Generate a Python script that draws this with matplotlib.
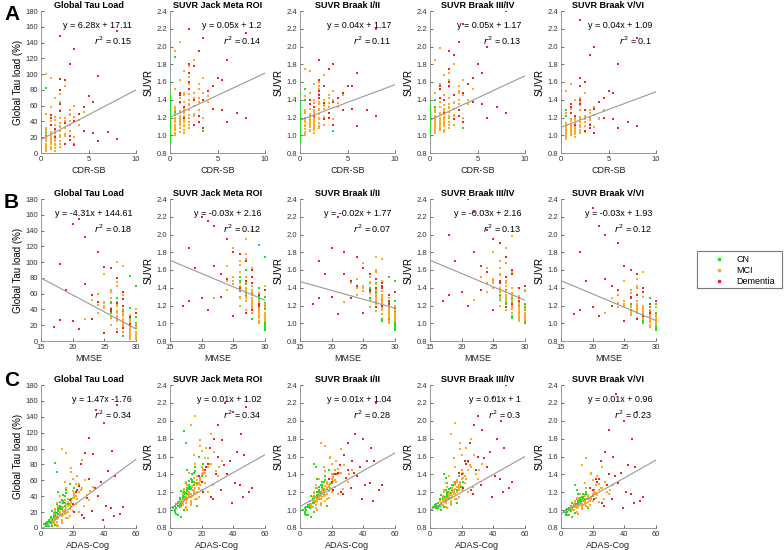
import matplotlib
matplotlib.use("Agg")
import matplotlib.pyplot as plt
from matplotlib.lines import Line2D
from matplotlib.patches import Rectangle

plt.rcParams['font.family'] = ['Liberation Sans', 'DejaVu Sans']

# ---------------- data (per subject) ----------------
# CN
cn_cdr = [0,0,0,0,0,0,0,0.5,0,0,0,0,0,0,0,0,0,0,0,0,0,0,0.5,0,0,0,0,0,0,0,0,0,3.5,0,0,0,0,0,0,0.5,
          0,0,0,0,0,0,0,0,0.5,0,0,0,0,0,0,0,0,0,0,0,0.5,0,0,0,0,0,0,0,0,0]
cn_mmse = [30,29,30,28,29,30,27,29,30,28,29,30,26,29,30,28,29,30,27,29,30,28,29,30,29,30,28,27,30,29,30,29,28,30,28,29,30,26,29,30,
           30,29,28,30,29,27,30,29,28,30,29,30,28,29,27,30,29,28,30,29,26,30,29,28,30,29,30,27,29,28]
cn_adas = [6,9,4,11,7,10,13,8,5,12,14,9,16,6,11,3,15,8,18,10,7,12,9,5,13,8,20,11,6,14,9,12,17,10,7,15,4,19,8,11,
           5,8,12,3,9,14,7,10,13,6,11,4,15,9,17,2,8,12,6,10,21,5,9,14,7,11,3,16,8,12]
cn_tau = [12,18,5,25,8,30,35,15,3,20,42,10,48,14,22,6,28,16,55,12,2,33,82,9,24,19,38,45,11,27,4,17,12,70,21,31,7,36,13,23,
          10,16,28,4,20,32,8,14,26,6,18,2,40,15,30,5,12,24,9,19,50,7,13,34,11,21,3,44,14,26]
cn_jack = [1.12,1.18,1.02,1.25,1.08,1.30,1.35,1.15,0.95,1.20,1.40,1.10,1.48,1.14,1.22,1.05,1.28,1.16,1.60,1.12,0.92,1.33,1.88,1.09,1.24,1.19,1.38,1.45,1.11,1.27,1.00,1.17,1.05,1.75,1.21,1.31,1.07,1.36,1.13,1.23,
           1.08,1.16,1.28,1.00,1.20,1.32,1.06,1.14,1.26,1.04,1.18,0.96,1.42,1.15,1.30,1.02,1.12,1.24,1.06,1.19,1.52,1.05,1.13,1.34,1.10,1.21,0.98,1.44,1.14,1.26]
cn_b12 = [1.10,1.15,1.00,1.20,1.05,1.25,1.28,1.12,0.95,1.18,1.32,1.08,1.38,1.10,1.16,1.02,1.22,1.14,1.45,1.10,0.92,1.26,1.52,1.06,1.19,1.14,1.30,1.35,1.07,1.21,0.98,1.13,1.05,1.48,1.16,1.24,1.04,1.29,1.11,1.17,
          1.06,1.12,1.22,0.98,1.16,1.26,1.04,1.10,1.20,1.02,1.14,0.94,1.32,1.12,1.24,1.00,1.08,1.18,1.05,1.15,1.40,1.03,1.09,1.28,1.07,1.16,0.96,1.34,1.10,1.20]
cn_b34 = [1.12,1.15,1.05,1.20,1.08,1.22,1.25,1.14,1.02,1.18,1.28,1.10,1.32,1.13,1.18,1.06,1.20,1.15,1.38,1.10,1.00,1.24,1.40,1.08,1.19,1.16,1.26,1.30,1.10,1.21,1.04,1.14,1.08,1.36,1.17,1.23,1.07,1.26,1.12,1.18,
          1.08,1.12,1.20,1.04,1.15,1.24,1.06,1.11,1.19,1.05,1.14,1.02,1.28,1.12,1.22,1.04,1.10,1.18,1.06,1.15,1.32,1.05,1.10,1.25,1.08,1.16,1.03,1.30,1.11,1.19]
cn_b56 = [1.05,1.08,0.98,1.10,1.02,1.12,1.15,1.06,0.95,1.09,1.18,1.04,1.20,1.05,1.08,1.00,1.12,1.07,1.25,1.04,0.92,1.14,1.28,1.02,1.10,1.07,1.16,1.18,1.03,1.11,0.97,1.06,1.02,1.22,1.08,1.13,1.01,1.15,1.05,1.09,
          1.02,1.06,1.12,0.97,1.08,1.14,1.00,1.05,1.11,0.99,1.07,0.94,1.17,1.06,1.13,0.98,1.04,1.10,1.01,1.07,1.22,1.00,1.05,1.15,1.03,1.08,0.95,1.18,1.05,1.11]

# MCI
mci_cdr = [0.5,1.0,1.5,2.0,0.5,1.0,2.5,3.0,1.5,0.5,1.0,2.0,1.5,0.5,3.5,1.0,2.5,1.5,0.5,1.0,2.0,1.5,3.0,0.5,1.0,2.5,4.0,1.5,0.5,2.0,1.0,3.0,1.5,0.5,2.0,1.0,2.5,1.5,0.5,4.5,1.0,2.0,1.5,3.5,0.5,1.0,2.5,1.5,0.5,2.0,1.0,3.0,1.5,0.5,2.0,
           0.5,1.0,1.5,2.0,2.5,0.5,1.0,1.5,2.0,3.0,0.5,1.0,1.5,2.0,0.5,1.0,2.5,1.5,3.0,0.5,1.0,2.0,1.5,0.5,4.0,1.0,2.0,1.5,0.5,3.5,1.0,2.5,1.5,2.0,0.5]
mci_mmse = [29,28,27,26,30,29,25,26,28,30,27,28,29,28,24,30,27,26,29,28,27,30,25,27,29,28,24,28,30,26,29,27,28,29,28,30,25,29,28,23,27,29,27,26,30,28,29,26,29,27,30,28,29,27,22,
            28,29,27,28,26,29,30,28,27,25,30,28,29,26,27,29,28,30,27,29,28,26,29,30,25,28,29,27,28,24,30,27,28,29,26]
mci_adas = [10,14,18,20,8,12,24,22,16,9,15,17,13,11,28,7,19,21,12,16,18,10,25,13,14,20,30,15,6,23,11,19,17,9,16,12,26,14,10,33,18,13,20,24,8,15,17,22,11,19,9,21,13,16,27,
            12,11,17,19,22,9,10,15,21,26,8,13,14,24,16,12,18,11,23,10,15,20,13,7,29,14,17,19,12,31,10,21,16,15,18]
mci_tau = [15,22,30,38,8,18,45,55,25,12,35,20,10,28,60,5,32,42,20,95,15,3,48,100,26,22,35,18,10,65,14,28,36,24,12,40,85,16,32,52,25,8,46,20,18,58,12,30,2,75,22,40,6,50,28,
           20,14,28,34,40,10,8,22,44,50,6,18,26,55,30,16,24,12,36,4,20,62,15,9,42,27,33,70,17,46,11,38,19,23,29]
mci_jack = [1.15,1.22,1.30,1.40,1.08,1.18,1.48,1.58,1.25,1.12,1.36,1.20,1.10,1.28,1.65,1.04,1.33,1.45,1.20,2.05,1.15,1.02,1.52,1.95,1.26,1.22,1.38,1.18,1.10,1.70,1.14,1.28,1.38,1.24,1.12,1.42,1.85,1.16,1.32,1.55,1.25,1.08,1.48,1.20,1.18,1.62,1.12,1.30,1.00,1.78,1.22,1.42,1.06,1.52,1.28,
            1.20,1.14,1.28,1.35,1.42,1.10,1.08,1.22,1.46,1.52,1.06,1.18,1.26,1.58,1.30,1.16,1.24,1.12,1.38,1.03,1.20,1.66,1.15,1.09,1.44,1.27,1.34,1.72,1.17,1.48,1.11,1.40,1.19,1.23,1.29]
mci_b12 = [1.15,1.20,1.28,1.35,1.10,1.18,1.40,1.45,1.22,1.12,1.30,1.18,1.08,1.25,1.50,1.05,1.30,1.36,1.17,1.72,1.14,1.02,1.42,1.75,1.22,1.20,1.32,1.16,1.10,1.55,1.12,1.25,1.32,1.20,1.10,1.35,1.68,1.15,1.28,1.45,1.22,1.08,1.40,1.18,1.15,1.48,1.12,1.26,1.00,1.60,1.19,1.36,1.06,1.44,1.24,
           1.18,1.12,1.25,1.30,1.34,1.10,1.06,1.20,1.38,1.42,1.04,1.16,1.22,1.46,1.27,1.14,1.21,1.10,1.32,1.02,1.18,1.52,1.13,1.07,1.36,1.24,1.29,1.58,1.15,1.40,1.09,1.33,1.17,1.20,1.26]
mci_b34 = [1.14,1.20,1.28,1.35,1.10,1.16,1.45,1.55,1.24,1.12,1.32,1.20,1.10,1.26,1.62,1.06,1.30,1.40,1.18,1.98,1.15,1.04,1.50,1.85,1.24,1.22,1.35,1.18,1.10,1.70,1.13,1.28,1.34,1.22,1.12,1.38,1.80,1.16,1.30,1.52,1.25,1.08,1.45,1.20,1.16,1.58,1.12,1.30,1.02,1.75,1.20,1.40,1.06,1.48,1.26,
           1.19,1.13,1.26,1.32,1.38,1.10,1.08,1.21,1.42,1.48,1.06,1.17,1.24,1.54,1.28,1.15,1.23,1.11,1.35,1.04,1.19,1.62,1.14,1.08,1.40,1.25,1.31,1.68,1.16,1.45,1.10,1.36,1.18,1.22,1.27]
mci_b56 = [1.06,1.10,1.14,1.18,1.03,1.08,1.22,1.28,1.12,1.05,1.16,1.09,1.04,1.12,1.32,1.00,1.15,1.20,1.08,1.58,1.06,0.98,1.25,1.50,1.11,1.10,1.18,1.07,1.04,1.38,1.05,1.13,1.17,1.10,1.05,1.18,1.48,1.06,1.14,1.28,1.11,1.02,1.22,1.09,1.07,1.30,1.04,1.14,0.96,1.42,1.09,1.19,1.01,1.25,1.12,
           1.08,1.05,1.12,1.15,1.19,1.03,1.02,1.09,1.21,1.25,1.00,1.07,1.11,1.29,1.13,1.06,1.10,1.04,1.17,0.98,1.08,1.34,1.06,1.02,1.20,1.11,1.15,1.40,1.07,1.23,1.04,1.18,1.08,1.10,1.12]

# Dementia
dem_cdr = [2.0,3.5,8.0,3.0,6.0,2.0,2.5,5.0,2.0,4.5,1.0,3.5,2.0,5.5,8.0,1.5,4.0,2.5,3.0,1.0,6.0,2.0,3.5,4.5,1.5,5.5,2.5,3.0,7.0,1.0]
dem_mmse = [20,22,21,24,18,25,26,22,27,23,28,26,28,20,17,29,24,27,29,30,21,28,25,23,29,19,26,28,18,27]
dem_adas = [35,40,48,30,45,28,33,42,25,38,22,36,30,44,50,20,34,27,32,18,46,24,39,41,21,47,29,26,52,23]
dem_tau = [148,132,155,113,97,94,93,72,80,58,45,40,62,25,18,30,50,12,22,35,15,53,10,28,20,65,38,16,26,48]
dem_jack = [2.20,2.10,2.15,1.95,1.85,1.80,1.78,1.65,1.70,1.55,1.45,1.40,1.60,1.28,1.20,1.32,1.50,1.12,1.22,1.38,1.15,1.52,1.08,1.30,1.20,1.62,1.40,1.15,1.25,1.48]
dem_b12 = [1.85,1.80,2.20,1.75,1.70,1.62,1.55,1.55,1.50,1.48,1.40,1.38,1.45,1.30,1.22,1.32,1.42,1.18,1.25,1.35,1.10,1.42,1.12,1.28,1.22,1.55,1.36,1.20,1.28,1.40]
dem_b34 = [2.45,2.25,2.40,2.05,2.00,1.95,1.90,1.80,1.75,1.65,1.55,1.48,1.60,1.35,1.25,1.40,1.58,1.18,1.28,1.42,1.20,1.55,1.15,1.38,1.25,1.70,1.45,1.22,1.32,1.52]
dem_b56 = [2.30,2.00,2.10,1.90,1.80,1.65,1.60,1.50,1.55,1.42,1.35,1.30,1.40,1.18,1.10,1.22,1.38,1.05,1.12,1.25,1.08,1.35,1.02,1.20,1.12,1.48,1.28,1.08,1.15,1.32]

# regression annotations (slope, intercept, r2) per row x column
row_fits = [
    [(6.28, 17.11, 0.15), (0.05, 1.2, 0.14), (0.04, 1.17, 0.11), (0.05, 1.17, 0.13), (0.04, 1.09, 0.1)],
    [(-4.31, 144.61, 0.18), (-0.03, 2.16, 0.12), (-0.02, 1.77, 0.07), (-0.03, 2.16, 0.13), (-0.03, 1.93, 0.12)],
    [(1.47, -1.76, 0.34), (0.01, 1.02, 0.34), (0.01, 1.04, 0.28), (0.01, 1.0, 0.3), (0.01, 0.96, 0.23)],
]
col_titles = ["Global Tau Load", "SUVR Jack Meta ROI", "SUVR Braak I/II", "SUVR Braak III/IV", "SUVR Braak V/VI"]
row_xlabels = ["CDR-SB", "MMSE", "ADAS-Cog"]
row_letters = ["A", "B", "C"]
group_names = ["CN", "MCI", "Dementia"]
group_colors = ["#22dd22", "#ffaa22", "#e8262b"]

groups = [
    dict(x=[cn_cdr, cn_mmse, cn_adas], y=[cn_tau, cn_jack, cn_b12, cn_b34, cn_b56]),
    dict(x=[mci_cdr, mci_mmse, mci_adas], y=[mci_tau, mci_jack, mci_b12, mci_b34, mci_b56]),
    dict(x=[dem_cdr, dem_mmse, dem_adas], y=[dem_tau, dem_jack, dem_b12, dem_b34, dem_b56]),
]

row_xlim = [(0, 10), (15, 30), (0, 60)]
row_xticks = [[0, 5, 10], [15, 20, 25, 30], [0, 20, 40, 60]]

W, H = 784, 550
fig = plt.figure(figsize=(W / 100, H / 100), dpi=100)

col_left = [41, 170, 300, 430, 561]
ax_w = 95
row_top = [11, 199, 385]
row_bot = [153, 341, 528]
letter_y = [15, 203, 381]

tick_col = "#333333"
spine_col = "#888888"

for r in range(3):
    for c in range(5):
        l = col_left[c] / W
        b = 1 - row_bot[r] / H
        h = (row_bot[r] - row_top[r]) / H
        ax = fig.add_axes([l, b, ax_w / W, h])
        for g, col in zip(groups, group_colors):
            ax.scatter(g["x"][r], g["y"][c], s=3.5, marker="s", color=col, linewidths=0, zorder=3)
        m, k, r2 = row_fits[r][c]
        x0, x1 = row_xlim[r]
        ax.plot([x0, x1], [m * x0 + k, m * x1 + k], color="#999999", lw=0.8, zorder=4)
        ax.set_xlim(x0, x1)
        ax.set_xticks(row_xticks[r])
        if c == 0:
            ax.set_ylim(0, 180)
            ax.set_yticks(range(0, 181, 20))
            ax.set_ylabel("Global Tau load (%)", fontsize=7, labelpad=2)
        else:
            ax.set_ylim(0.8, 2.4)
            ax.set_yticks([0.8, 1.0, 1.2, 1.4, 1.6, 1.8, 2.0, 2.2, 2.4])
            ax.set_yticklabels(["0.8", "1.0", "1.2", "1.4", "1.6", "1.8", "2.0", "2.2", "2.4"])
            ax.set_ylabel("SUVR", fontsize=7, labelpad=2)
        ax.set_xlabel(row_xlabels[r], fontsize=6.5, labelpad=2, color="#222222")
        ax.set_title(col_titles[c], fontsize=6.5, fontweight="bold", pad=2.5)
        for s in ["top", "right"]:
            ax.spines[s].set_visible(False)
        for s in ["left", "bottom"]:
            ax.spines[s].set_color(spine_col)
            ax.spines[s].set_linewidth(0.6)
        ax.tick_params(direction="in", length=2, width=0.5, labelsize=5.5, colors=tick_col, pad=2)
        sign = "+" if k >= 0 else "-"
        if r == 2 and c == 0:
            eq = "y = %gx -%g" % (m, abs(k))
        else:
            eq = "y = %gx %s %g" % (m, sign, abs(k))
        ax.text(0.96, 0.90, eq, transform=ax.transAxes, ha="right", va="center", fontsize=6.5, zorder=5)
        ax.text(0.96, 0.79, "$r^2$ = %g" % r2, transform=ax.transAxes, ha="right", va="center", fontsize=6.5, zorder=5)
        if c == 0:
            fig.text(4 / W, 1 - letter_y[r] / H, row_letters[r], fontsize=15, fontweight="bold", va="center", ha="left")

# legend (frame drawn separately to match the reference box)
handles = [Line2D([], [], marker="s", linestyle="none", markersize=2, color=col) for col in group_colors]
leg = fig.legend(handles, group_names, loc="upper left", bbox_to_anchor=(700 / W, 1 - 252 / H),
                 fontsize=6.5, frameon=False, borderpad=0.3, handletextpad=0.2,
                 labelspacing=0.25, handlelength=3.5, borderaxespad=0)
fig.add_artist(Rectangle((697 / W, 1 - 288 / H), 85 / W, 37 / H, transform=fig.transFigure,
                         fill=False, edgecolor="#777777", linewidth=0.8))

fig.savefig("out.png", dpi=100)
